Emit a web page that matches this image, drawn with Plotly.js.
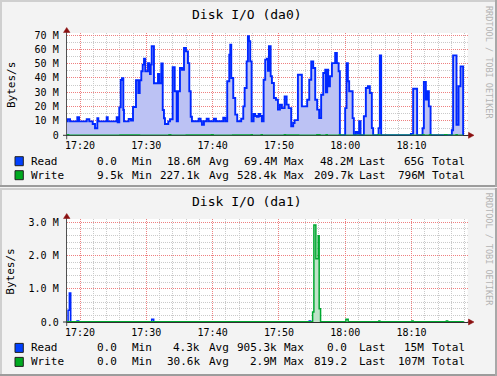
<!DOCTYPE html>
<html><head><meta charset="utf-8">
<script src="https://cdn.plot.ly/plotly-3.0.1.min.js"></script>
<style>html,body{margin:0;padding:0;background:#f3f3f3}</style>
</head><body><div id="chart" style="width:497px;height:376px"></div>
<script>
// ---------- DATA (time = minutes after 17:00, values in MB/s) ----------
const readDa0T = [17.99,18.15,18.49,19.59,19.85,21.01,21.40,21.91,22.26,22.61,22.76,24.02,24.18,25.53,25.68,25.92,26.14,26.33,26.53,26.63,27.34,27.69,27.99,28.44,28.79,29.00,29.24,29.45,29.65,29.84,30.25,30.45,30.55,30.66,30.81,31.15,31.76,31.95,32.26,32.47,32.66,32.81,33.31,33.57,33.97,34.28,34.58,34.77,35.07,35.38,35.68,35.98,36.28,36.48,36.69,36.88,37.89,38.19,38.39,38.69,39.10,39.40,40.20,40.50,41.60,41.90,42.20,42.51,42.66,42.81,43.11,43.41,43.71,44.31,44.62,44.83,45.13,45.32,45.48,45.67,45.88,46.18,46.42,46.68,46.94,47.18,47.43,47.69,47.93,48.19,48.34,48.49,48.75,48.94,49.24,49.55,49.85,50.15,50.45,50.86,51.16,51.46,51.85,52.15,52.36,52.86,53.46,54.26,54.57,54.87,55.17,55.47,55.77,56.07,56.37,56.68,56.98,57.08,57.28,57.43,57.69,57.99,58.48,58.74,59.00,59.19,59.99,60.20,60.40,60.59,61.11,61.30,61.60,61.90,62.10,62.31,62.81,63.11,63.41,63.71,64.01,64.21,65.03,65.22,65.42,69.90,70.24,70.84,71.66,71.86,72.16,72.35,72.61,72.87,76.08,76.27,76.78,77.09,77.39,77.78];
const readDa0V = [9.7,11.2,9.7,12.6,9.7,11.2,9.7,7.9,4.9,11.9,9.7,12.6,9.7,12.6,9.0,19.5,38.6,39.8,17.7,9.7,11.4,10.3,19.7,38.4,29.5,38.4,44.7,49.3,53.5,44.7,50.4,48.1,42.8,49.3,62.1,36.3,42.8,36.3,50.2,17.7,11.9,7.9,9.7,11.2,47.5,30.7,9.8,30.7,47.0,45.8,61.0,58.6,50.4,30.7,12.9,9.8,11.6,9.8,7.4,9.8,11.6,9.8,11.6,9.8,12.2,9.8,37.7,56.2,63.2,40.0,26.0,14.4,9.8,11.6,20.2,33.0,51.6,69.1,65.6,51.6,9.8,14.9,13.5,12.9,14.9,13.5,9.8,38.8,52.8,53.5,45.0,62.1,41.2,36.5,26.0,24.8,17.9,21.4,19.0,27.2,21.4,19.0,6.3,8.6,10.6,42.3,20.2,24.8,38.8,51.6,47.0,24.8,17.9,12.0,28.3,43.5,45.8,30.0,45.8,34.2,41.2,50.4,57.4,50.4,44.7,0,19.0,50.4,37.7,30.7,12.0,0,2.3,1.0,9.8,0,13.3,33.0,34.2,29.5,5.0,0,5.0,55.8,0,1.0,32.5,0,4.9,37.2,25.0,30.7,20.2,0,3.5,55.8,7.4,34.2,48.1,0];
const writeDa0T = [17.99,18.3,20,23,26,29,33.4,33.7,36,39.8,40.1,43,45.8,46.0,47.3,47.5,50.8,51.0,53,55.7,56.2,57.1,57.3,59.1,59.3,62,64.9,65.1,68,71.7,71.9,72.7,72.9,75.0,75.35,76.7,76.9,77.78];
const writeDa0V = [0.48,0.19,0.21,0.16,0.24,0.20,0.52,0.21,0.23,0.50,0.19,0.25,0.51,0.22,0.50,0.20,0.52,0.23,0.18,0.528,0.20,0.505,0.21,0.50,0.15,0.12,0.50,0.11,0.09,0.50,0.13,0.50,0.12,0.51,0.14,0.50,0.21,0.21];
const readDa1T = [17.99,18.19,18.39,18.60,19.55,19.80,30.81,31.11,54.57,54.78,77.78];
const readDa1V = [0,0.35,0.87,0,0.03,0,0.08,0,0.03,0,0];
const writeDa1T = [17.99,55.08,55.27,55.57,55.92,56.07,56.28,60.10,60.44,65.07,65.22,70.05,70.24,75.25,75.45,77.78];
const writeDa1V = [0.005,0.3,2.91,1.9,2.59,0.4,0.005,0.08,0.005,0.03,0.005,0.03,0.005,0.03,0.005,0.001];

const titles = ['Disk I/O (da0)','Disk I/O (da1)'];
const yTitle = 'Bytes/s';
const da0TickVals = [0,10,20,30,40,50,60,70];
const da0TickText = ['0','10 M','20 M','30 M','40 M','50 M','60 M','70 M'];
const da1TickVals = [0,1,2,3];
const da1TickText = ['0.0','1.0 M','2.0 M','3.0 M'];
const seriesNames = ['Read','Write'];
const statNames = ['Min','Avg','Max','Last','Total'];
const da0ReadStats = ['0.0','18.6M','69.4M','48.2M','65G'];
const da0WriteStats = ['9.5k','227.1k','528.4k','209.7k','796M'];
const da1ReadStats = ['0.0','4.3k','905.3k','0.0','15M'];
const da1WriteStats = ['0.0','30.6k','2.9M','819.2','107M'];
const watermark = 'RRDTOOL / TOBI OETIKER';

// ---------- helpers ----------
const W = 497, H = 376;
const px = x => x / W, py = y => 1 - y / H;
const T0 = Date.UTC(2024,0,1,17,0,0);
const toDate = m => new Date(T0 + Math.round(m*60000)).toISOString().replace('T',' ').replace('Z','');
const READ_LINE = '#0028ff', READ_FILL = '#bcc2f4', WRITE_LINE = '#00a830', WRITE_FILL = '#bfe3c8';
const MONO = 'DejaVu Sans Mono';
const RED_GRID = '#ee8080', GRAY_GRID = '#cacaca';
const DOTS = '1px,1px';

const traces = [
  {x: readDa0T.map(toDate), y: readDa0V, xaxis:'x', yaxis:'y', type:'scatter', mode:'lines', line:{shape:'hv', color:READ_LINE, width:1.9}, fill:'tozeroy', fillcolor:READ_FILL, hoverinfo:'skip'},
  {x: writeDa0T.map(toDate), y: writeDa0V, xaxis:'x', yaxis:'y', type:'scatter', mode:'lines', line:{shape:'hv', color:WRITE_LINE, width:1.2}, fill:'tozeroy', fillcolor:WRITE_FILL, hoverinfo:'skip'},
  {x: readDa1T.map(toDate), y: readDa1V, xaxis:'x2', yaxis:'y2', type:'scatter', mode:'lines', line:{shape:'hv', color:READ_LINE, width:1.5}, fill:'tozeroy', fillcolor:READ_FILL, hoverinfo:'skip'},
  {x: writeDa1T.map(toDate), y: writeDa1V, xaxis:'x2', yaxis:'y2', type:'scatter', mode:'lines', line:{shape:'hv', color:WRITE_LINE, width:1.5}, fill:'tozeroy', fillcolor:WRITE_FILL, hoverinfo:'skip'}
];

const xDomain = [px(66.7), px(467.7)];
function xAx(anchor){
  return {type:'date', domain:xDomain, anchor, range:[toDate(17.99), toDate(78.47)],
    tickmode:'linear', tick0:toDate(20), dtick:600000, tickformat:'%H:%M',
    showgrid:true, gridcolor:RED_GRID, griddash:DOTS, gridwidth:1,
    minor:{tickmode:'linear', tick0:toDate(20), dtick:120000, showgrid:true, gridcolor:GRAY_GRID, griddash:DOTS, gridwidth:1},
    showline:true, linecolor:'#303030', linewidth:1, layer:'below traces', zeroline:false, ticks:'', ticklabelstandoff:1,
    tickfont:{family:MONO, size:10, color:'#000'}, fixedrange:true};
}
function yAx(anchor, domain, range, vals, text, minorStep){
  return {domain, anchor, range, tickmode:'array', tickvals:vals, ticktext:text,
    showgrid:true, gridcolor:RED_GRID, griddash:DOTS, gridwidth:1,
    minor:{tickmode:'linear', tick0:0, dtick:minorStep, showgrid:true, gridcolor:GRAY_GRID, griddash:DOTS, gridwidth:1},
    showline:true, linecolor:'#505050', linewidth:1, layer:'below traces', zeroline:false, ticks:'', ticklabelstandoff:5,
    tickfont:{family:MONO, size:10, color:'#000'}, fixedrange:true};
}

const shapes = [];
const annotations = [];
function line(x0,y0,x1,y1,color,width,layer){shapes.push({type:'line',xref:'paper',yref:'paper',x0:px(x0),y0:py(y0),x1:px(x1),y1:py(y1),line:{color,width},layer:layer||'above'});}
function rect(x0,y0,x1,y1,fill,lc,lw,layer){shapes.push({type:'rect',xref:'paper',yref:'paper',x0:px(x0),y0:py(y0),x1:px(x1),y1:py(y1),fillcolor:fill,line:{color:lc||'rgba(0,0,0,0)',width:lw||0},layer:layer||'above'});}
function tri(pts,color){shapes.push({type:'path',xref:'paper',yref:'paper',path:'M'+pts.map(p=>px(p[0])+','+py(p[1])).join('L')+'Z',fillcolor:color,line:{color,width:0.5},layer:'above'});}
function txt(t,x,y,size,opts){annotations.push(Object.assign({text:t,x:px(x),y:py(y),xref:'paper',yref:'paper',xanchor:'left',yanchor:'middle',showarrow:false,borderpad:0,font:{family:MONO,size:size,color:'#000'}},opts||{}));}

const CW = 6.62;
const valueRight = [122.5, 198.8, 275.8, 352.4, 423.2];
const nameX = [130.7, 208.3, 282.8, 357.5, 430.7];
const panels = [
  {top:0, bottom:187, plotTop:33, plotBottom:135.3, title:titles[0], stats:[da0ReadStats, da0WriteStats]},
  {top:188, bottom:376, plotTop:219, plotBottom:322, title:titles[1], stats:[da1ReadStats, da1WriteStats]}
];
panels.forEach((p,i)=>{
  const o = p.top === 0 ? 0 : 186.7;
  // frame
  line(0, p.top+1, W, p.top+1, '#cfcfcf', 2);
  line(1, p.top, 1, p.bottom, '#cfcfcf', 2);
  line(0, p.bottom-1, W, p.bottom-1, '#9c9c9c', 2);
  line(W-1, p.top, W-1, p.bottom, '#a8a8a8', 2);
  // axis extensions + arrows
  line(66.7, p.plotTop, 66.7, p.plotTop-3, '#505050', 1);
  line(66.7, p.plotBottom, 66.7, p.plotBottom+4, '#505050', 1);
  line(63, p.plotBottom, 66.7, p.plotBottom, '#303030', 1);
  line(467.7, p.plotBottom, 469, p.plotBottom, '#303030', 1);
  tri([[63.5,p.plotTop-0.5],[70,p.plotTop-0.5],[66.7,p.plotTop-5.5]], '#8b1010');
  tri([[468.5,p.plotBottom-3],[468.5,p.plotBottom+3],[474,p.plotBottom]], '#8b1010');
  // texts
  txt(p.title, 247, 15+o, 13, {xanchor:'center'});
  txt(yTitle, 11, 85+o, 11, {xanchor:'center', textangle:-90});
  txt(watermark, 488.5, 62.5+o, 8.5, {xanchor:'center', textangle:90, font:{family:MONO,size:8.5,color:'#b4b4b4'}});
  const rows = [161.2+o, 175.2+o];
  seriesNames.forEach((nm,r)=>{
    const y = rows[r];
    rect(15, y-4.5, 23.3, y+4.5, r===0 ? '#0040ff' : '#00aa20', '#202020', 1);
    txt(nm, 30, y, 11);
    p.stats[r].forEach((v,c)=>{
      const len = v.length + (/[0-9]$/.test(v) ? 1 : 0);
      txt(v, valueRight[c] - len*CW, y, 11);
      txt(statNames[c], nameX[c], y, 11);
    });
  });
});

const layout = {
  width:W, height:H, margin:{l:0,r:0,t:0,b:0}, showlegend:false,
  paper_bgcolor:'#f3f3f3', plot_bgcolor:'#ffffff',
  xaxis: xAx('y'), yaxis: yAx('x', [py(135.3), py(33)], [0, 71.4], da0TickVals, da0TickText, 5),
  xaxis2: xAx('y2'), yaxis2: yAx('x2', [py(322), py(219)], [0, 3.09], da1TickVals, da1TickText, 0.2),
  shapes, annotations
};
Plotly.newPlot('chart', traces, layout, {staticPlot:true, displayModeBar:false});
</script></body></html>
